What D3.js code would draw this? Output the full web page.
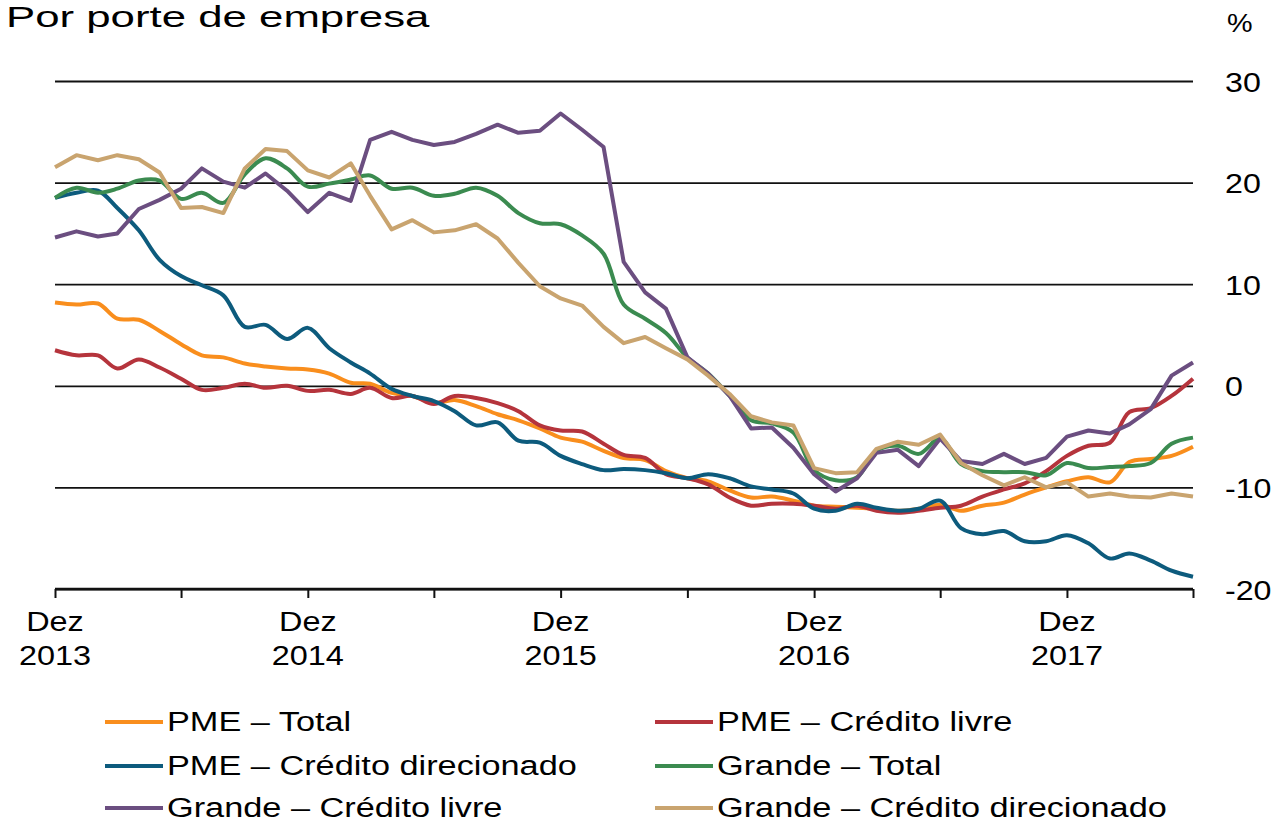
<!DOCTYPE html>
<html>
<head>
<meta charset="utf-8">
<script src="https://cdn.jsdelivr.net/npm/d3@7"></script>
<style>
  body { margin: 0; background: #fff; }
  svg { display: block; font-family: 'Liberation Sans', Arial, sans-serif; }
</style>
</head>
<body>
<div id="chart"></div>
<script>
// monthly, Dez 2013 .. Jun 2018
const startMonth = new Date(2013, 11, 1)
const endMonth = new Date(2018, 5, 1)

const pmeTotal = [8.2, 8.0, 8.1, 6.6, 6.5, 5.4, 4.1, 3.0, 2.8, 2.2, 1.9, 1.7, 1.6, 1.2, 0.3, 0.2,
  -0.7, -1.0, -1.7, -1.4, -2.0, -2.8, -3.4, -4.2, -5.1, -5.5, -6.4, -7.1, -7.3, -8.4, -9.1, -9.4,
  -10.3, -11.0, -10.9, -11.3, -11.8, -11.9, -12.0, -12.1, -12.3, -12.1, -11.7, -12.3, -11.8, -11.5,
  -10.7, -10.0, -9.4, -9.0, -9.5, -7.5, -7.2, -6.9, -6.0]

const pmeLivre = [3.5, 3.0, 3.0, 1.7, 2.6, 1.8, 0.7, -0.4, -0.2, 0.2, -0.2, 0.0, -0.5, -0.4, -0.8, -0.2,
  -1.2, -1.0, -1.8, -1.0, -1.2, -1.7, -2.5, -3.9, -4.4, -4.5, -5.7, -6.8, -7.1, -8.7, -9.1, -9.7,
  -11.0, -11.8, -11.6, -11.6, -11.8, -12.1, -11.8, -12.3, -12.5, -12.3, -12.0, -11.8, -10.9, -10.2,
  -9.6, -8.4, -6.9, -5.9, -5.6, -2.6, -2.2, -1.0, 0.7]

const pmeDirecionado = [18.5, 19.0, 19.2, 17.5, 15.3, 12.4, 10.8, 9.9, 8.9, 5.8, 6.0, 4.6, 5.7, 3.7, 2.3, 1.2,
  -0.3, -1.0, -1.5, -2.5, -3.9, -3.6, -5.4, -5.6, -6.9, -7.7, -8.3, -8.2, -8.3, -8.6, -9.1, -8.7,
  -9.1, -9.9, -10.2, -10.6, -12.1, -12.3, -11.6, -12.0, -12.3, -12.1, -11.3, -14.0, -14.6, -14.3,
  -15.3, -15.3, -14.7, -15.5, -17.0, -16.5, -17.2, -18.2, -18.8]

const grandeTotal = [18.5, 19.5, 19.0, 19.4, 20.2, 20.2, 18.4, 19.0, 18.0, 20.8, 22.4, 21.4, 19.6, 19.9, 20.3, 20.7,
  19.4, 19.5, 18.7, 18.9, 19.5, 18.7, 17.0, 16.0, 15.9, 14.8, 13.0, 8.0, 6.6, 5.2, 2.8, 1.2,
  -1.0, -3.4, -3.7, -4.6, -8.3, -9.3, -9.0, -6.4, -5.9, -6.7, -5.2, -7.7, -8.4, -8.5,
  -8.5, -8.8, -7.6, -8.1, -8.0, -7.9, -7.6, -5.7, -5.1]

const grandeLivre = [14.6, 15.2, 14.7, 15.0, 17.4, 18.3, 19.4, 21.4, 20.1, 19.5, 20.9, 19.2, 17.1, 19.0, 18.2, 24.2,
  25.0, 24.2, 23.7, 24.0, 24.8, 25.7, 24.9, 25.1, 26.8, 25.2, 23.5, 12.2, 9.2, 7.6, 2.8, 1.2,
  -1.0, -4.2, -4.1, -6.1, -8.7, -10.4, -9.1, -6.6, -6.3, -7.9, -5.2, -7.4, -7.7, -6.7,
  -7.7, -7.1, -5.0, -4.4, -4.7, -3.8, -2.3, 1.0, 2.3]

const grandeDirecionado = [21.5, 22.7, 22.2, 22.7, 22.3, 21.0, 17.5, 17.6, 17.0, 21.4, 23.3, 23.1, 21.2, 20.5, 21.9, 18.7,
  15.4, 16.3, 15.1, 15.3, 15.9, 14.5, 12.1, 9.8, 8.6, 7.9, 5.8, 4.2, 4.8, 3.7, 2.6, 1.0,
  -0.8, -3.0, -3.6, -3.9, -8.1, -8.6, -8.5, -6.2, -5.5, -5.8, -4.8, -7.6, -8.8, -9.8,
  -9.0, -10.0, -9.5, -10.9, -10.6, -10.9, -11.0, -10.6, -10.9]

const seriesNames = ['PME – Total', 'PME – Crédito livre', 'PME – Crédito direcionado',
  'Grande – Total', 'Grande – Crédito livre', 'Grande – Crédito direcionado']
const seriesValues = [pmeTotal, pmeLivre, pmeDirecionado, grandeTotal, grandeLivre, grandeDirecionado]
const seriesColors = ['#f98e1d', '#b5343c', '#0d5b7d', '#3b8b50', '#6b4e80', '#c9a46f']
const seriesSmooth = [true, true, true, true, false, false]

const yTicks = [30, 20, 10, 0, -10, -20]
const xLabelYears = ['2013', '2014', '2015', '2016', '2017']

const months = d3.timeMonth.range(startMonth, d3.timeMonth.offset(endMonth, 1))

const width = 1276
const height = 823
const plot = { left: 55, right: 1193, top: 81, bottom: 589 }

// the source picture has its text stretched sideways
const stretch = 1.2

const svg = d3
  .select('#chart')
  .append('svg')
  .attr('width', width)
  .attr('height', height)

const xPositionScale = d3.scaleTime().domain([startMonth, endMonth]).range([plot.left, plot.right])
const yPositionScale = d3.scaleLinear().domain([-20, 30]).range([plot.bottom, plot.top])

function wideText(parent, x, y, str, size, sx, anchor) {
  return parent
    .append('text')
    .attr('transform', 'translate(' + x + ',' + y + ') scale(' + sx + ',1)')
    .attr('font-size', size)
    .attr('text-anchor', anchor || 'start')
    .attr('fill', '#000')
    .text(str)
}

// title + unit
wideText(svg, 6, 27, 'Por porte de empresa', 30, 1.46)
wideText(svg, 1227, 32, '%', 25, 1.15)

// horizontal gridlines
const yAxis = d3
  .axisRight(yPositionScale)
  .tickValues(yTicks)
  .tickSize(-(plot.right - plot.left))
  .tickFormat('')

svg
  .append('g')
  .attr('class', 'axis y-axis')
  .attr('transform', 'translate(' + plot.right + ',0)')
  .call(yAxis)
  .call(g => g.select('.domain').remove())
  .call(g => g.selectAll('.tick line').attr('stroke', '#111').attr('stroke-width', 1.8))
  .call(g =>
    g.selectAll('.tick').each(function(d) {
      wideText(d3.select(this), 32, 10, String(d), 28, 1.15)
    })
  )

// bottom axis ticks every 6 months
const xAxis = d3
  .axisBottom(xPositionScale)
  .tickValues(months.filter((d, i) => i % 6 === 0))
  .tickSize(9)
  .tickFormat('')

svg
  .append('g')
  .attr('class', 'axis x-axis')
  .attr('transform', 'translate(0,' + plot.bottom + ')')
  .call(xAxis)
  .call(g => g.select('.domain').attr('stroke', '#111').attr('stroke-width', 2.5).attr('d', 'M' + plot.left + ',0H' + plot.right))
  .call(g => g.selectAll('.tick line').attr('stroke', '#111').attr('stroke-width', 2))

xLabelYears.forEach(yr => {
  const x = xPositionScale(new Date(+yr, 11, 1))
  wideText(svg, x, 631, 'Dez', 27, stretch, 'middle')
  wideText(svg, x, 665, yr, 27, stretch, 'middle')
})

// lines
seriesValues.forEach((values, i) => {
  const line = d3
    .line()
    .x((d, j) => xPositionScale(months[j]))
    .y(d => yPositionScale(d))
    .curve(seriesSmooth[i] ? d3.curveCatmullRom.alpha(0.5) : d3.curveLinear)

  svg
    .append('path')
    .datum(values)
    .attr('d', line)
    .attr('fill', 'none')
    .attr('stroke', seriesColors[i])
    .attr('stroke-width', 4)
    .attr('stroke-linejoin', 'round')
})

// legend
const legendCols = [105, 655]
const legendRows = [722, 766, 808]
seriesNames.forEach((name, i) => {
  const g = svg
    .append('g')
    .attr('transform', 'translate(' + legendCols[i % 2] + ',' + legendRows[Math.floor(i / 2)] + ')')
  g.append('line')
    .attr('x1', 0)
    .attr('x2', 58)
    .attr('stroke', seriesColors[i])
    .attr('stroke-width', 4)
  wideText(g, 62, 9, name, 27, 1.27)
})
</script>
</body>
</html>
